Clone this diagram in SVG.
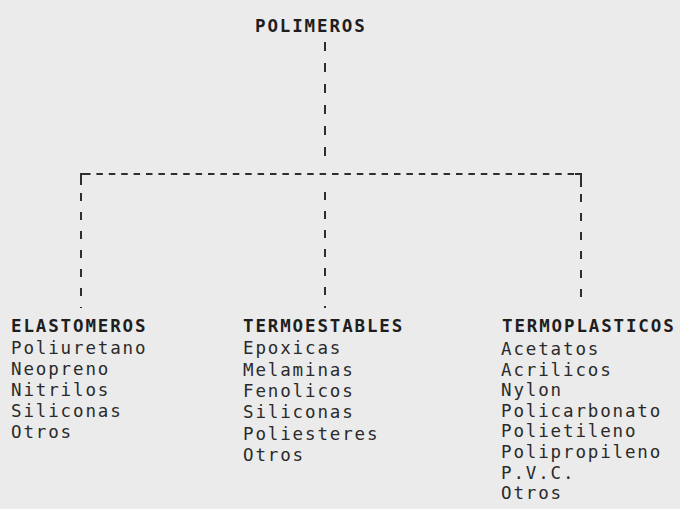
<svg xmlns="http://www.w3.org/2000/svg" width="680" height="509" viewBox="0 0 680 509">
<style>
.bg{fill:#ebebeb}
.h{font-family:"DejaVu Sans Mono","Liberation Mono",monospace;font-weight:bold;font-size:17.5px;letter-spacing:1.86px;fill:#1e1e1e}
.i{font-family:"DejaVu Sans Mono","Liberation Mono",monospace;font-size:17.5px;letter-spacing:1.86px;fill:#2a2a2a}
.v{stroke:#2e2e2e;stroke-width:2;fill:none;stroke-dasharray:8 11}
.hz{stroke:#2e2e2e;stroke-width:2;fill:none;stroke-dasharray:6.5 5.9}
.c{stroke:#2e2e2e;stroke-width:2;fill:none}
</style>
<rect class="bg" x="0" y="0" width="680" height="509"/>
<g id="connectors">
<line class="v" x1="325" y1="42" x2="325" y2="160" style="stroke-dasharray:9 12"/>
<line class="hz" x1="84" y1="174" x2="578" y2="174"/>
<path class="c" d="M87,174 H81 V185"/>
<path class="c" d="M575,174 H581 V187"/>
<line class="v" x1="81" y1="193" x2="81" y2="308"/>
<line class="v" x1="325" y1="192" x2="325" y2="308"/>
<line class="v" x1="581" y1="194" x2="581" y2="308"/>
</g>
<g id="polimeros">
<text class="h" x="255" y="32">POLIMEROS</text>
</g>
<g id="elastomeros">
<text class="h" x="11" y="332">ELASTOMEROS</text>
<text class="i" x="11" y="354">Poliuretano</text>
<text class="i" x="11" y="375">Neopreno</text>
<text class="i" x="11" y="396">Nitrilos</text>
<text class="i" x="11" y="417">Siliconas</text>
<text class="i" x="11" y="438">Otros</text>
</g>
<g id="termoestables">
<text class="h" x="243" y="332">TERMOESTABLES</text>
<text class="i" x="243" y="354">Epoxicas</text>
<text class="i" x="243" y="375.5">Melaminas</text>
<text class="i" x="243" y="397">Fenolicos</text>
<text class="i" x="243" y="418">Siliconas</text>
<text class="i" x="243" y="439.5">Poliesteres</text>
<text class="i" x="243" y="461">Otros</text>
</g>
<g id="termoplasticos">
<text class="h" x="502" y="332">TERMOPLASTICOS</text>
<text class="i" x="501" y="355">Acetatos</text>
<text class="i" x="501" y="375.6">Acrilicos</text>
<text class="i" x="501" y="396.2">Nylon</text>
<text class="i" x="501" y="416.8">Policarbonato</text>
<text class="i" x="501" y="437.4">Polietileno</text>
<text class="i" x="501" y="458">Polipropileno</text>
<text class="i" x="501" y="478.6">P.V.C.</text>
<text class="i" x="501" y="499.2">Otros</text>
</g>
</svg>
